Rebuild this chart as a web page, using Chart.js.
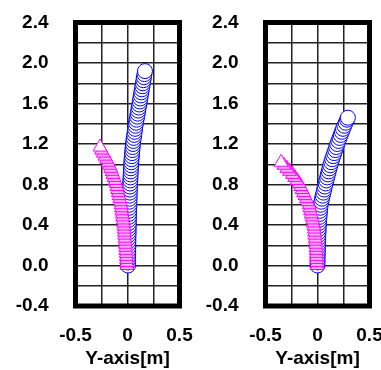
<!DOCTYPE html>
<html>
<head>
<meta charset="utf-8">
<script src="https://cdn.jsdelivr.net/npm/chart.js@4.4.1/dist/chart.umd.min.js"></script>
<style>
  html, body { margin: 0; padding: 0; background: #fff; overflow: hidden; }
  #wrap { position: relative; width: 381px; height: 370px; overflow: hidden; }
  canvas { position: absolute; top: 0; }
</style>
</head>
<body>
<div id="wrap">
  <canvas id="graf1" width="200" height="370" style="left:0"></canvas>
  <canvas id="graf2" width="200" height="370" style="left:190px"></canvas>
</div>
<script>
// eixos
const xTicks = [-0.5, 0, 0.5];
const yTicks = [-0.4, 0.0, 0.4, 0.8, 1.2, 1.6, 2.0, 2.4];
const tituloX = 'Y-axis[m]';

// painel 1 - circulos azuis
const azulY1 = [0.00,0.03,0.06,0.09,0.12,0.15,0.18,0.21,0.24,0.27,0.30,0.33,0.36,0.39,0.42,0.45,0.48,0.51,0.54,0.57,
  0.60,0.63,0.66,0.69,0.72,0.75,0.78,0.81,0.84,0.87,0.90,0.93,0.96,0.99,1.02,1.05,1.08,1.11,1.14,1.17,
  1.20,1.23,1.26,1.29,1.32,1.35,1.38,1.41,1.44,1.47,1.50,1.53,1.56,1.59,1.62,1.65,1.68,1.71,1.74,1.77,
  1.80,1.83,1.86,1.89,1.92];
const azulX1 = [0.005,0.005,0.006,0.006,0.007,0.007,0.008,0.008,0.009,0.009,0.010,0.011,0.011,0.012,0.013,0.013,0.014,0.015,0.016,0.017,
  0.018,0.019,0.020,0.021,0.022,0.023,0.024,0.025,0.027,0.029,0.030,0.032,0.033,0.035,0.037,0.039,0.042,0.044,0.047,0.050,
  0.052,0.056,0.060,0.065,0.069,0.073,0.077,0.082,0.087,0.093,0.098,0.103,0.108,0.113,0.118,0.123,0.128,0.133,0.138,0.143,
  0.148,0.153,0.158,0.163,0.168];

// painel 1 - triangulos magenta
const magY1 = [0.00,0.03,0.06,0.09,0.12,0.15,0.18,0.21,0.24,0.27,0.30,0.33,0.36,0.39,0.42,0.45,0.48,0.51,0.54,0.57,
  0.60,0.63,0.66,0.69,0.72,0.75,0.78,0.81,0.84,0.87,0.90,0.93,0.96,0.99,1.02,1.05,1.08,1.11,1.14,1.17];
const magX1 = [-0.005,-0.007,-0.009,-0.011,-0.013,-0.015,-0.017,-0.019,-0.021,-0.024,-0.027,-0.029,-0.032,-0.034,-0.038,-0.042,-0.046,-0.050,-0.054,-0.058,
  -0.062,-0.068,-0.075,-0.081,-0.088,-0.094,-0.101,-0.108,-0.118,-0.129,-0.140,-0.150,-0.161,-0.172,-0.185,-0.201,-0.217,-0.233,-0.249,-0.264];

// painel 2 - circulos azuis
const azulY2 = [0.00,0.03,0.06,0.09,0.12,0.15,0.18,0.21,0.24,0.27,0.30,0.33,0.36,0.39,0.42,0.45,0.48,0.51,0.54,0.57,
  0.60,0.63,0.66,0.69,0.72,0.75,0.78,0.81,0.84,0.87,0.90,0.93,0.96,0.99,1.02,1.05,1.08,1.11,1.14,1.17,
  1.20,1.23,1.26,1.29,1.32,1.35,1.38,1.41,1.44,1.46];
const azulX2 = [0.000,0.001,0.001,0.002,0.002,0.004,0.004,0.005,0.006,0.007,0.008,0.010,0.011,0.012,0.014,0.016,0.019,0.022,0.024,0.027,
  0.030,0.037,0.043,0.050,0.057,0.064,0.070,0.078,0.085,0.093,0.100,0.108,0.115,0.123,0.132,0.141,0.151,0.161,0.171,0.180,
  0.190,0.201,0.212,0.223,0.234,0.245,0.258,0.271,0.284,0.292];

// painel 2 - triangulos magenta
const magY2 = [0.00,0.03,0.06,0.09,0.12,0.15,0.18,0.21,0.24,0.27,0.30,0.33,0.36,0.39,0.42,0.45,0.48,0.51,0.54,0.57,
  0.60,0.63,0.66,0.69,0.72,0.75,0.78,0.81,0.84,0.87,0.90,0.93,0.96,0.99,1.02];
const magX2 = [-0.005,-0.006,-0.008,-0.009,-0.011,-0.012,-0.014,-0.016,-0.019,-0.022,-0.025,-0.028,-0.031,-0.034,-0.040,-0.046,-0.053,-0.060,-0.067,-0.073,
  -0.080,-0.094,-0.107,-0.121,-0.134,-0.148,-0.161,-0.177,-0.198,-0.219,-0.240,-0.268,-0.295,-0.323,-0.350];

Chart.defaults.font.family = '"Liberation Sans", Arial, sans-serif';
Chart.defaults.font.weight = 'bold';
Chart.defaults.font.size = 19;
Chart.defaults.color = '#000';

function pares(xs, ys) { return xs.map((x, i) => ({ x: x, y: ys[i] })); }

// ultimo marcador fica branco por dentro, os outros rosados
function fundoMag(c) { return c.dataIndex === c.dataset.data.length - 1 ? '#ffffff' : '#ffb0ff'; }

// moldura grossa em volta da area do grafico
const moldura = {
    id: 'moldura',
    afterDraw(chart) {
        const a = chart.chartArea, ctx = chart.ctx;
        ctx.save();
        ctx.lineWidth = 5;
        ctx.strokeStyle = '#000';
        ctx.strokeRect(a.left, a.top, a.right - a.left, a.bottom - a.top);
        ctx.restore();
    }
};

function criarGrafico(id, azulX, azulY, magX, magY) {
    const ctx = document.getElementById(id).getContext('2d');
    return new Chart(ctx, {
        type: 'scatter',
        data: {
            datasets: [
                { data: pares(magX, magY), pointStyle: 'triangle', pointRadius: 8, borderWidth: 1,
                  borderColor: '#ff00ff', backgroundColor: fundoMag },
                { data: pares(azulX, azulY), pointStyle: 'circle', pointRadius: 7.5, borderWidth: 1,
                  borderColor: '#0000ff', backgroundColor: '#ffffff' }
            ]
        },
        options: {
            responsive: false, animation: false, events: [],
            layout: { padding: { left: 0, top: 22.5, right: 20.5, bottom: 0 } },
            plugins: { legend: { display: false }, tooltip: { enabled: false } },
            scales: {
                x: {
                    min: -0.5, max: 0.5,
                    afterFit: s => { s.height = 64; s.paddingLeft = 0; s.paddingRight = 0; },
                    afterBuildTicks: s => { s.ticks = [-0.5, -0.25, 0, 0.25, 0.5].map(v => ({ value: v })); },
                    ticks: { autoSkip: false, maxRotation: 0, padding: 18,
                        callback: v => { const i = xTicks.indexOf(v); return i < 0 ? '' : (v === 0 ? '0' : v.toFixed(1)); } },
                    grid: { color: '#222', lineWidth: 1.5, drawTicks: false },
                    border: { display: false },
                    title: { display: true, text: tituloX, padding: 0 }
                },
                y: {
                    min: -0.4, max: 2.4,
                    afterFit: s => { s.width = 75.5; s.paddingTop = 0; s.paddingBottom = 0; },
                    ticks: { stepSize: 0.2, autoSkip: false, padding: 27,
                        callback: v => { const k = Math.round(v * 10); return yTicks.some(t => Math.round(t * 10) === k) ? (k / 10).toFixed(1) : ''; } },
                    grid: { color: '#222', lineWidth: 1.5, drawTicks: false },
                    border: { display: false }
                }
            }
        },
        plugins: [moldura]
    });
}

criarGrafico('graf1', azulX1, azulY1, magX1, magY1);
criarGrafico('graf2', azulX2, azulY2, magX2, magY2);
</script>
</body>
</html>
